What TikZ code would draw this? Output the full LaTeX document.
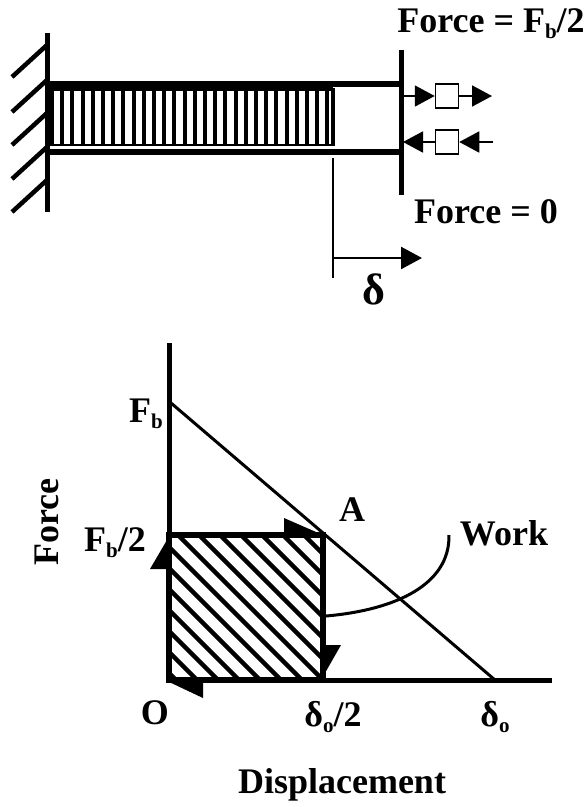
\documentclass[tikz,border=0pt]{standalone}
\usepackage{fontspec}
\setmainfont{Liberation Serif}
\usetikzlibrary{arrows.meta, positioning, calc}
\newcommand{\subb}[1]{\raisebox{-6pt}{\fontsize{21}{21}\selectfont #1}}

\begin{document}
\begin{tikzpicture}[x=1pt, y=-1pt,
    lbl/.style={font=\fontsize{36}{36}\selectfont\bfseries, inner sep=0pt},
    wall/.style={line width=5pt},
    tick/.style={line width=4.5pt},
    plate/.style={line width=5.5pt},
    forcebox/.style={rectangle, draw, line width=1.5pt, fill=white, minimum width=23pt, minimum height=24pt, inner sep=0pt},
    forcearrow/.style={-{Triangle[length=20pt, width=21pt]}, line width=1.8pt},
    axisline/.style={line width=5pt},
    halfhead/.style={fill=black, draw=none},
    hatchline/.style={line width=4.5pt}]

    \useasboundingbox (0,0) rectangle (588,807);

    % Wall
    \coordinate (walltop) at (47,33);
    \coordinate (wallbot) at (47,212);
    \draw [wall] (walltop) -- (wallbot);
    \foreach \y in {45,80,113,147,180} {
        \draw [tick] (47,\y) -- (12,\y+32);
    }

    % Spring
    \fill (47,81) rectangle (333,91);
    \foreach \i in {0,...,27} {
        \draw [line width=4pt] (52+\i*10.2,90) -- (52+\i*10.2,145);
    }
    \draw [line width=2.5pt] (47,145) -- (333,145);
    \draw [line width=3.5pt] (333,88) -- (333,146);

    % Plates
    \coordinate (platetop) at (401,50);
    \coordinate (platebot) at (401,195);
    \draw [plate] (47,84) -- (401,84);
    \draw [plate] (47,152) -- (401,152);
    \draw [wall] (platetop) -- (platebot);

    % Forces
    \node [forcebox] (boxup) at (447,96) {};
    \node [forcebox] (boxdown) at (447,142) {};
    \coordinate (upstart) at (403,96);
    \coordinate (upend) at (492,96);
    \coordinate (downstart) at (493,142);
    \coordinate (downend) at (403,142);
    \draw [forcearrow] (upstart) -- (boxup.west);
    \draw [forcearrow] (boxup.east) -- (upend);
    \draw [forcearrow] (boxdown.west) -- (downend);
    \draw [forcearrow] (downstart) -- (boxdown.east);
    \node [lbl] (fhalf) at (491,24) {Force = F\subb{b}/2};
    \node [lbl] (fzero) at (486,212) {Force = 0};

    % Displacement mark
    \coordinate (marktop) at (333,158);
    \coordinate (markbot) at (333,278);
    \coordinate (markstart) at (333,258);
    \coordinate (markend) at (422,258);
    \draw [line width=2.5pt] (marktop) -- (markbot);
    \draw [-{Triangle[length=21pt, width=22pt]}, line width=2.5pt] (markstart) -- (markend);
    \node [lbl, font=\fontsize{44}{44}\selectfont\bfseries] (delta) at (374,289) {δ};

    % Work area
    \coordinate (O) at (169,680);
    \coordinate (B) at (169,535);
    \coordinate (C) at (323,535);
    \coordinate (D) at (323,680);
    \begin{scope}
        \clip (O) rectangle (C);
        \foreach \d in {-140,-119,...,340} {
            \draw [hatchline] (169+\d-145,535) -- (169+\d+20,700);
        }
    \end{scope}
    \draw [line width=6pt, line join=miter] (O) -- (B) -- (C) -- (D) -- cycle;

    % Axes and load line
    \coordinate (ytop) at (169,343);
    \coordinate (xend) at (552,680);
    \coordinate (Fb) at (171,403);
    \coordinate (delta0) at (495,680);
    \draw [axisline] (ytop) -- (O);
    \draw [axisline] (O) -- (xend);
    \draw [line width=3pt] (Fb) -- (delta0);

    % Half arrow heads
    \fill [halfhead] (284,518) -- (323,535) -- (284,537) -- cycle;
    \fill [halfhead] (167,540) -- (150,569) -- (170,569) -- cycle;
    \fill [halfhead] (321,680) -- (341,645) -- (321,645) -- cycle;
    \fill [halfhead] (167,681) -- (203,698) -- (203,678) -- cycle;

    % Work leader
    \coordinate (workstart) at (326,616);
    \coordinate (workend) at (449,535);
    \draw [line width=3pt] (workstart) .. controls (395,610) and (450,585) .. (workend);

    % Labels
    \node [lbl] (lfb) at (146,414) {F\subb{b}};
    \node [lbl] (lfb2) at (115,543) {F\subb{b}/2};
    \node [lbl] (la) at (352,510) {A};
    \node [lbl] (lwork) at (504,533) {Work};
    \node [lbl] (lo) at (155,713) {O};
    \node [lbl] (ld2) at (333,717) {δ\subb{o}/2};
    \node [lbl] (ld) at (495,717) {δ\subb{o}};
    \node [lbl] (lx) at (342,785) {Displacement};
    \node [lbl, rotate=90] (ly) at (47,522) {Force};

\end{tikzpicture}
\end{document}
